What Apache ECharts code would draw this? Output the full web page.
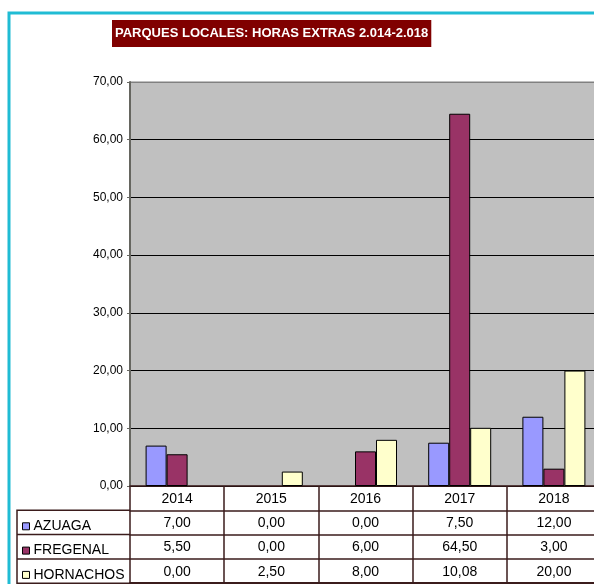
<!DOCTYPE html>
<html>
<head>
<meta charset="utf-8">
<script src="https://cdn.jsdelivr.net/npm/echarts@6/dist/echarts.min.js"></script>
<style>
  html, body { margin: 0; padding: 0; overflow: hidden; background: #fff; }
  #main { width: 610px; height: 584px; }
</style>
</head>
<body>
<div id="main"></div>
<script>
// datos
var years = ["2014", "2015", "2016", "2017", "2018"];
var azuaga = [7.00, 0.00, 0.00, 7.50, 12.00];
var fregenal = [5.50, 0.00, 6.00, 64.50, 3.00];
var hornachos = [0.00, 2.50, 8.00, 10.08, 20.00];
var seriesNames = ["AZUAGA", "FREGENAL", "HORNACHOS"];
var colors = ["#9999FF", "#993366", "#FFFFCC"];

function fmt(v) {
  return v.toFixed(2).replace(".", ",");
}

var chart = echarts.init(document.getElementById("main"));
var lineCol = "#3b1c1c";
var rowH = 24.3;
var gridLeft = 130, gridTop = 82, gridBottom = 98;
var axisY = 486;

// una fila de la tabla = un eje x extra
function rowAxis(labels, offset, show) {
  return {
    type: "category",
    data: labels,
    position: "bottom",
    offset: offset,
    axisLine: { show: true, lineStyle: { color: lineCol, width: 1.5 } },
    axisTick: { show: show, length: rowH, interval: 0, lineStyle: { color: lineCol, width: 1.5 } },
    axisLabel: { show: show, interval: 0, margin: 6, fontSize: 14, color: "#000", fontFamily: "Liberation Sans, Arial" },
    splitLine: { show: false }
  };
}

var allData = [azuaga, fregenal, hornachos];
var xAxes = [rowAxis(years, 0, true)];
allData.forEach(function (r, i) {
  xAxes.push(rowAxis(r.map(fmt), rowH * (i + 1), true));
});
xAxes.push(rowAxis(years.map(function () { return ""; }), rowH * 4, false));
xAxes[4].axisLine.lineStyle.width = 2;

// una leyenda por fila
var legends = seriesNames.map(function (name, i) {
  return {
    data: [name],
    orient: "vertical",
    left: 17,
    top: axisY + rowH * (i + 1) + 4,
    icon: "rect",
    itemWidth: 7,
    itemHeight: 7,
    textStyle: { fontSize: 14, color: "#000", fontFamily: "Liberation Sans, Arial", padding: [0, 0, 0, -1] },
    itemStyle: { borderColor: "#000", borderWidth: 1 }
  };
});

var option = {
  animation: false,
  title: {
    text: "PARQUES LOCALES: HORAS EXTRAS 2.014-2.018",
    left: 112,
    top: 20,
    padding: [7, 3, 7, 3],
    backgroundColor: "#800000",
    textStyle: { color: "#fff", fontSize: 13, fontWeight: "bold", fontFamily: "Liberation Sans, Arial" }
  },
  legend: legends,
  grid: {
    left: gridLeft,
    right: 9,
    top: gridTop,
    bottom: gridBottom,
    show: true,
    backgroundColor: "#C0C0C0",
    borderColor: "#808080",
    borderWidth: 1
  },
  xAxis: xAxes,
  yAxis: {
    type: "value",
    min: 0,
    max: 70,
    interval: 10,
    axisLine: { show: true, lineStyle: { color: "#666660", width: 2 } },
    axisTick: { show: true, length: 3, lineStyle: { color: "#666660" } },
    axisLabel: {
      fontSize: 12, color: "#000", margin: 7, fontFamily: "Liberation Sans, Arial",
      formatter: function (v) { return fmt(v); }
    },
    splitLine: {
      show: true,
      lineStyle: { color: ["#000", "#000", "#000", "#000", "#000", "#000", "#000", "#808080"], width: 1 }
    }
  },
  series: seriesNames.map(function (name, i) {
    return {
      name: name,
      type: "bar",
      xAxisIndex: 0,
      barWidth: 21,
      barGap: "0%",
      itemStyle: { color: colors[i], borderColor: "#000", borderWidth: 1 },
      // sin borde en barras de valor 0
      data: allData[i].map(function (v) {
        return v === 0 ? { value: v, itemStyle: { borderWidth: 0 } } : v;
      })
    };
  }),
  graphic: [
    // marco cian
    {
      type: "polyline",
      shape: { points: [[9, 600], [9, 13], [620, 13]] },
      style: { stroke: "#20BCD4", lineWidth: 3, fill: null }
    },
    // bordes de la columna de leyenda
    {
      type: "polyline",
      shape: { points: [[gridLeft, axisY + rowH], [17, axisY + rowH], [17, axisY + rowH * 4], [gridLeft, axisY + rowH * 4]] },
      style: { stroke: lineCol, lineWidth: 1.5, fill: null }
    },
    { type: "line", shape: { x1: 17, y1: axisY + rowH * 2, x2: gridLeft, y2: axisY + rowH * 2 }, style: { stroke: lineCol, lineWidth: 1.5 } },
    { type: "line", shape: { x1: 17, y1: axisY + rowH * 3, x2: gridLeft, y2: axisY + rowH * 3 }, style: { stroke: lineCol, lineWidth: 1.5 } }
  ]
};

chart.setOption(option);
</script>
</body>
</html>
